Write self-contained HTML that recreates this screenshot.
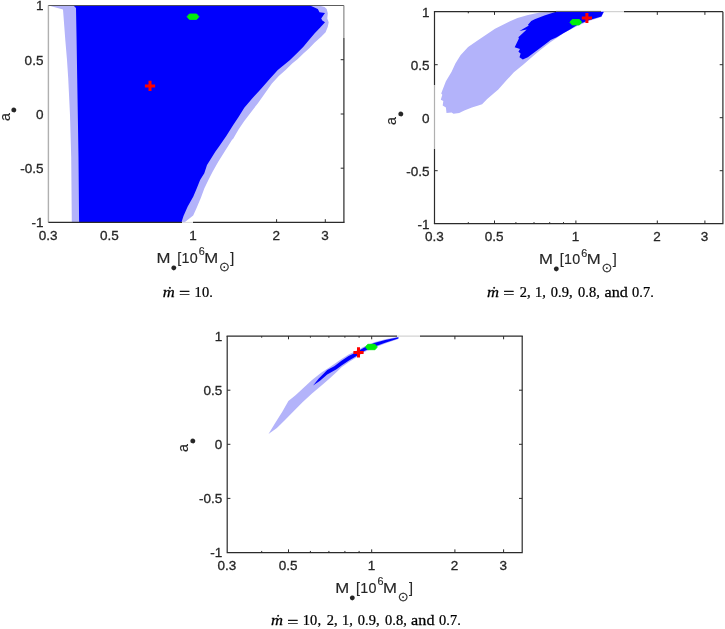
<!DOCTYPE html>
<html><head><meta charset="utf-8"><title>figure</title>
<style>
html,body{margin:0;padding:0;background:#fff}
svg{display:block}
.t{font-family:"Liberation Sans",sans-serif;font-size:13.5px;fill:#262626;stroke:#262626;stroke-width:0.3px}
.l{font-family:"Liberation Sans","DejaVu Sans",sans-serif;font-size:14.3px;fill:#262626;stroke:#262626;stroke-width:0.15px}
.c{font-family:"Liberation Serif",serif;font-size:13.8px;letter-spacing:0.1px;fill:#000;stroke:#000;stroke-width:0.25px}
</style></head><body>
<svg width="725" height="629" viewBox="0 0 725 629">
<rect width="725" height="629" fill="#fff"/>
<polygon points="48.5,5.6 63.0,9.5 65.3,40.0 67.0,60.0 68.2,78.0 70.0,115.0 71.2,157.0 71.8,222.5 184.5,222.5 185.6,221.6 193.2,215.4 196.7,207.8 200.8,198.1 204.3,188.4 208.4,180.1 212.6,171.8 218.1,162.1 225.0,151.0 231.9,140.0 233.2,138.8 238.7,129.2 244.3,120.9 251.2,111.9 258.1,102.9 265.0,93.2 271.9,83.5 278.8,75.9 285.6,70.0 292.2,63.4 297.8,59.0 303.4,53.4 309.0,48.4 314.5,42.8 321.2,36.7 325.6,32.3 327.8,26.7 328.7,22.2 327.3,18.4 327.8,13.3 326.7,8.9 324.5,6.9 319.0,5.6" fill="#b3b3fa"/>
<polygon points="73.5,5.6 76.0,8.0 76.6,40.0 77.2,78.0 78.5,157.0 79.1,222.5 181.4,222.5 183.5,216.1 187.7,206.4 193.2,196.7 196.7,188.4 200.1,180.1 204.3,173.2 207.0,164.9 215.3,151.8 218.7,147.0 226.3,136.0 233.2,125.0 238.7,116.7 244.3,107.7 252.6,98.0 260.9,89.0 269.2,79.4 277.8,70.0 283.3,65.6 290.0,60.0 296.7,53.4 303.4,46.7 309.0,40.0 314.5,33.4 320.0,27.8 325.0,22.2 322.3,20.6 321.2,18.4 325.0,13.1 319.5,12.2 317.8,8.9 314.5,7.6 310.0,5.6" fill="#0000fd"/>
<path d="M48.4 5.5V222.4" stroke="#b0b0b0" stroke-width="1.4" fill="none"/>
<path d="M48.4 5.5H343.9" stroke="#4a4a4a" stroke-width="0.9" fill="none"/>
<path d="M343.9 5.5V38" stroke="#707070" stroke-width="1" fill="none"/>
<path d="M343.9 38V222.4" stroke="#2b2b2b" stroke-width="1.2" fill="none"/>
<path d="M48.4 222.4H182" stroke="#2b2b2b" stroke-width="1.2" fill="none"/>
<path d="M193 222.4H344.5" stroke="#2b2b2b" stroke-width="1.2" fill="none"/>
<path d="M182 222.4H193" stroke="#dcdcdc" stroke-width="1" fill="none"/>
<path d="M276.6 222.4v-3.2" stroke="#2b2b2b" stroke-width="1" fill="none"/>
<path d="M325.3 222.4v-3.2" stroke="#2b2b2b" stroke-width="1" fill="none"/>
<path d="M343.9 59.7h-3.2" stroke="#2b2b2b" stroke-width="1" fill="none"/>
<path d="M343.9 114.0h-3.2" stroke="#2b2b2b" stroke-width="1" fill="none"/>
<path d="M343.9 168.2h-3.2" stroke="#2b2b2b" stroke-width="1" fill="none"/>
<path d="M144.9 85.9H155.1M150.0 80.8V91.0" stroke="#ff0000" stroke-width="3.0" fill="none"/>
<polygon points="187.1,16.7 189.4,14.0 196.6,14.0 198.9,16.7 196.6,19.4 189.4,19.4" fill="#00ee0a" stroke="#00ee0a" stroke-width="0.9" stroke-linejoin="round"/>
<text class="t" transform="translate(43.4,10.3) scale(1.0,1)" text-anchor="end">1</text>
<text class="t" transform="translate(43.4,64.6) scale(1.0,1)" text-anchor="end">0.5</text>
<text class="t" transform="translate(43.4,118.8) scale(1.0,1)" text-anchor="end">0</text>
<text class="t" transform="translate(43.4,173.0) scale(1.0,1)" text-anchor="end">-0.5</text>
<text class="t" transform="translate(43.4,227.2) scale(1.0,1)" text-anchor="end">-1</text>
<text class="t" transform="translate(48.1,239.8) scale(1.0,1)" text-anchor="middle">0.3</text>
<text class="t" transform="translate(109.5,239.8) scale(1.0,1)" text-anchor="middle">0.5</text>
<text class="t" transform="translate(192.9,239.8) scale(1.0,1)" text-anchor="middle">1</text>
<text class="t" transform="translate(276.3,239.8) scale(1.0,1)" text-anchor="middle">2</text>
<text class="t" transform="translate(325.0,239.8) scale(1.0,1)" text-anchor="middle">3</text>
<text class="l" transform="translate(156.5,263.1) scale(1.17,1)">M</text>
<text class="l" style="font-size:10.9px" x="170.4" y="270.9">●</text>
<text class="l" style="letter-spacing:0.35px" x="177.2" y="263.1">[10</text>
<text class="l" style="font-size:10.8px" x="198.8" y="255.3">6</text>
<text class="l" transform="translate(204.2,263.1) scale(1.17,1)">M</text>
<text class="l" style="font-family:'DejaVu Sans',sans-serif;font-size:12.7px" x="219.1" y="270.6">⊙</text>
<text class="l" x="230.2" y="263.1">]</text>
<text class="l" transform="translate(9.5,120.9) scale(1.05,1) rotate(-90)">a</text>
<text class="l" transform="translate(9.5,120.9) rotate(-90)" style="font-size:10.9px" x="7.7" y="7.1">●</text>
<text class="c" transform="translate(162.8,296.5) scale(1.17,1)" style="font-style:italic;font-size:14.2px">ṁ</text>
<text class="c" transform="translate(179.0,297.8) scale(1.43,1.02)">=</text>
<text class="c" transform="translate(194.6,296.5) scale(1.045,1)">10.</text>
<polygon points="556.0,11.8 540.0,12.5 528.0,15.0 517.5,18.0 510.0,21.3 495.0,28.8 478.3,40.0 468.1,47.0 460.5,55.3 455.4,63.5 451.6,71.8 445.9,81.3 442.7,89.6 441.2,93.4 442.3,94.7 440.8,99.7 443.3,101.0 442.7,105.5 445.9,107.4 446.5,113.1 451.6,112.5 453.5,113.7 459.2,113.1 464.3,110.5 471.9,107.4 478.3,105.5 482.1,104.2 487.2,99.1 493.6,93.4 498.3,89.4 506.7,80.1 513.9,72.3 523.4,64.5 532.3,56.7 540.0,50.2 550.0,42.6 556.7,37.9 563.7,33.0 577.2,26.0 588.8,21.0 601.4,17.0 604.2,11.8" fill="#b3b3fa"/>
<polygon points="556.0,11.8 544.4,15.4 534.7,19.3 531.2,21.0 527.8,25.0 528.9,25.6 519.5,31.1 526.7,29.5 518.4,37.2 518.9,38.4 514.7,47.3 520.0,48.9 518.4,51.7 520.6,53.4 519.5,57.3 522.8,59.5 527.8,57.3 534.5,52.3 541.2,47.3 547.8,42.2 550.6,40.0 556.7,37.2 563.4,33.3 570.0,29.5 577.2,25.1 588.8,20.3 601.4,16.4 603.3,12.5 604.2,11.8" fill="#0000fd"/>
<path d="M434.5 11.7V85M434.5 149V223.7" stroke="#2b2b2b" stroke-width="1.2" fill="none"/>
<path d="M434.5 85V149" stroke="#b0b0b0" stroke-width="1.2" fill="none"/>
<path d="M433.9 11.7H556M624 11.7H722.9" stroke="#2b2b2b" stroke-width="1.2" fill="none"/>
<path d="M604 11.7H624" stroke="#c8c8c8" stroke-width="1" fill="none"/>
<path d="M556 11.399999999999999H601" stroke="#4a4a4a" stroke-width="0.9" fill="none"/>
<path d="M722.9 11.7V223.7M433.9 223.7H723.5" stroke="#2b2b2b" stroke-width="1.2" fill="none"/>
<path d="M468.3 223.7v-1.6" stroke="#2b2b2b" stroke-width="1" fill="none"/>
<path d="M494.5 223.7v-3.2" stroke="#2b2b2b" stroke-width="1" fill="none"/>
<path d="M515.9 223.7v-1.6" stroke="#2b2b2b" stroke-width="1" fill="none"/>
<path d="M534.0 223.7v-1.6" stroke="#2b2b2b" stroke-width="1" fill="none"/>
<path d="M549.7 223.7v-1.6" stroke="#2b2b2b" stroke-width="1" fill="none"/>
<path d="M563.5 223.7v-1.6" stroke="#2b2b2b" stroke-width="1" fill="none"/>
<path d="M575.9 223.7v-3.2" stroke="#2b2b2b" stroke-width="1" fill="none"/>
<path d="M657.3 223.7v-3.2" stroke="#2b2b2b" stroke-width="1" fill="none"/>
<path d="M704.9 223.7v-3.2" stroke="#2b2b2b" stroke-width="1" fill="none"/>
<path d="M468.3 11.7v1.6" stroke="#2b2b2b" stroke-width="1" fill="none"/>
<path d="M494.5 11.7v3.2" stroke="#2b2b2b" stroke-width="1" fill="none"/>
<path d="M657.3 11.7v3.2" stroke="#2b2b2b" stroke-width="1" fill="none"/>
<path d="M704.9 11.7v3.2" stroke="#2b2b2b" stroke-width="1" fill="none"/>
<path d="M722.9 64.7h-3.2" stroke="#2b2b2b" stroke-width="1" fill="none"/>
<path d="M434.5 64.7h3.2" stroke="#2b2b2b" stroke-width="1" fill="none"/>
<path d="M722.9 117.7h-3.2" stroke="#2b2b2b" stroke-width="1" fill="none"/>
<path d="M722.9 170.7h-3.2" stroke="#2b2b2b" stroke-width="1" fill="none"/>
<path d="M434.5 170.7h3.2" stroke="#2b2b2b" stroke-width="1" fill="none"/>
<polygon points="569.9,22.2 572.2,19.5 579.4,19.5 581.7,22.2 579.4,24.9 572.2,24.9" fill="#00ee0a" stroke="#00ee0a" stroke-width="0.9" stroke-linejoin="round"/>
<path d="M581.8 18.0H592.0M586.9 12.9V23.1" stroke="#ff0000" stroke-width="3.0" fill="none"/>
<text class="t" transform="translate(429.5,16.5) scale(1.0,1)" text-anchor="end">1</text>
<text class="t" transform="translate(429.5,69.5) scale(1.0,1)" text-anchor="end">0.5</text>
<text class="t" transform="translate(429.5,122.5) scale(1.0,1)" text-anchor="end">0</text>
<text class="t" transform="translate(429.5,175.5) scale(1.0,1)" text-anchor="end">-0.5</text>
<text class="t" transform="translate(429.5,228.5) scale(1.0,1)" text-anchor="end">-1</text>
<text class="t" transform="translate(434.3,241.1) scale(1.0,1)" text-anchor="middle">0.3</text>
<text class="t" transform="translate(494.2,241.1) scale(1.0,1)" text-anchor="middle">0.5</text>
<text class="t" transform="translate(575.6,241.1) scale(1.0,1)" text-anchor="middle">1</text>
<text class="t" transform="translate(657.0,241.1) scale(1.0,1)" text-anchor="middle">2</text>
<text class="t" transform="translate(704.6,241.1) scale(1.0,1)" text-anchor="middle">3</text>
<text class="l" transform="translate(539.0,264.4) scale(1.17,1)">M</text>
<text class="l" style="font-size:10.9px" x="552.9" y="272.2">●</text>
<text class="l" style="letter-spacing:0.35px" x="559.7" y="264.4">[10</text>
<text class="l" style="font-size:10.8px" x="581.3" y="256.6">6</text>
<text class="l" transform="translate(586.7,264.4) scale(1.17,1)">M</text>
<text class="l" style="font-family:'DejaVu Sans',sans-serif;font-size:12.7px" x="601.6" y="271.9">⊙</text>
<text class="l" x="612.7" y="264.4">]</text>
<text class="l" transform="translate(396.4,125.0) scale(1.05,1) rotate(-90)">a</text>
<text class="l" transform="translate(396.4,125.0) rotate(-90)" style="font-size:10.9px" x="7.7" y="7.1">●</text>
<text class="c" transform="translate(487.0,296.5) scale(1.17,1)" style="font-style:italic;font-size:14.2px">ṁ</text>
<text class="c" transform="translate(503.2,297.8) scale(1.43,1.02)">=</text>
<text class="c" transform="translate(519.7,296.5) scale(1.045,1)">2,</text>
<text class="c" transform="translate(535.0,296.5) scale(1.045,1)">1,</text>
<text class="c" transform="translate(550.7,296.5) scale(1.045,1)">0.9,</text>
<text class="c" transform="translate(578.0,296.5) scale(1.045,1)">0.8,</text>
<text class="c" transform="translate(604.4,296.5) scale(1.17,1)">and</text>
<text class="c" transform="translate(631.9,296.5) scale(1.045,1)">0.7.</text>
<polygon points="268.5,434.1 275.5,422.6 282.3,411.8 288.4,400.9 295.8,394.9 303.9,387.4 312.0,380.0 321.5,372.6 329.6,367.2 341.5,358.9 348.6,354.5 354.3,351.8 364.3,346.6 374.2,342.2 385.2,339.3 398.4,336.8 398.4,339.0 385.2,343.5 374.2,347.7 364.3,352.0 355.8,357.8 348.6,362.2 341.5,367.2 337.7,371.0 329.6,378.6 321.5,385.4 312.0,393.5 302.5,402.3 293.1,411.8 285.0,419.9 276.9,428.0" fill="#b3b3fa"/>
<polygon points="313.1,385.4 318.8,378.6 322.8,374.4 327.2,370.0 334.3,366.2 341.5,360.7 348.6,356.1 354.3,353.2 364.3,347.6 374.2,343.0 385.2,339.9 398.4,337.2 398.4,338.6 385.2,342.8 374.2,346.8 364.3,351.0 355.8,356.5 348.6,360.7 341.5,365.4 336.5,369.3 327.2,374.6 320.0,380.8" fill="#0000fd"/>
<path d="M227.2 336.1V552.55M522.2 336.1V552.55M226.6 552.55H522.8000000000001" stroke="#2b2b2b" stroke-width="1.2" fill="none"/>
<path d="M226.6 336.1H397M420 336.1H522.8000000000001" stroke="#2b2b2b" stroke-width="1.2" fill="none"/>
<path d="M397 336.1H420" stroke="#c8c8c8" stroke-width="1" fill="none"/>
<path d="M261.7 552.55v-1.6M261.7 336.1v1.6" stroke="#2b2b2b" stroke-width="1" fill="none"/>
<path d="M288.5 552.55v-3.2M288.5 336.1v3.2" stroke="#2b2b2b" stroke-width="1" fill="none"/>
<path d="M310.4 552.55v-1.6M310.4 336.1v1.6" stroke="#2b2b2b" stroke-width="1" fill="none"/>
<path d="M328.9 552.55v-1.6M328.9 336.1v1.6" stroke="#2b2b2b" stroke-width="1" fill="none"/>
<path d="M344.9 552.55v-1.6M344.9 336.1v1.6" stroke="#2b2b2b" stroke-width="1" fill="none"/>
<path d="M359.1 552.55v-1.6M359.1 336.1v1.6" stroke="#2b2b2b" stroke-width="1" fill="none"/>
<path d="M371.7 552.55v-3.2M371.7 336.1v3.2" stroke="#2b2b2b" stroke-width="1" fill="none"/>
<path d="M454.9 552.55v-3.2M454.9 336.1v3.2" stroke="#2b2b2b" stroke-width="1" fill="none"/>
<path d="M503.6 552.55v-3.2M503.6 336.1v3.2" stroke="#2b2b2b" stroke-width="1" fill="none"/>
<path d="M522.2 390.2h-3.2M227.2 390.2h3.2" stroke="#2b2b2b" stroke-width="1" fill="none"/>
<path d="M522.2 444.3h-3.2M227.2 444.3h3.2" stroke="#2b2b2b" stroke-width="1" fill="none"/>
<path d="M522.2 498.4h-3.2M227.2 498.4h3.2" stroke="#2b2b2b" stroke-width="1" fill="none"/>
<polygon points="365.5,347.0 367.8,344.3 375.0,344.3 377.3,347.0 375.0,349.7 367.8,349.7" fill="#00ee0a" stroke="#00ee0a" stroke-width="0.9" stroke-linejoin="round"/>
<path d="M353.4 352.4H363.6M358.5 347.3V357.5" stroke="#ff0000" stroke-width="3.0" fill="none"/>
<text class="t" transform="translate(222.2,341.0) scale(1.0,1)" text-anchor="end">1</text>
<text class="t" transform="translate(222.2,395.1) scale(1.0,1)" text-anchor="end">0.5</text>
<text class="t" transform="translate(222.2,449.2) scale(1.0,1)" text-anchor="end">0</text>
<text class="t" transform="translate(222.2,503.3) scale(1.0,1)" text-anchor="end">-0.5</text>
<text class="t" transform="translate(222.2,557.4) scale(1.0,1)" text-anchor="end">-1</text>
<text class="t" transform="translate(226.9,569.9) scale(1.0,1)" text-anchor="middle">0.3</text>
<text class="t" transform="translate(288.2,569.9) scale(1.0,1)" text-anchor="middle">0.5</text>
<text class="t" transform="translate(371.4,569.9) scale(1.0,1)" text-anchor="middle">1</text>
<text class="t" transform="translate(454.6,569.9) scale(1.0,1)" text-anchor="middle">2</text>
<text class="t" transform="translate(503.3,569.9) scale(1.0,1)" text-anchor="middle">3</text>
<text class="l" transform="translate(335.2,593.2) scale(1.17,1)">M</text>
<text class="l" style="font-size:10.9px" x="349.1" y="601.0">●</text>
<text class="l" style="letter-spacing:0.35px" x="355.9" y="593.2">[10</text>
<text class="l" style="font-size:10.8px" x="377.5" y="585.4">6</text>
<text class="l" transform="translate(382.9,593.2) scale(1.17,1)">M</text>
<text class="l" style="font-family:'DejaVu Sans',sans-serif;font-size:12.7px" x="397.8" y="600.7">⊙</text>
<text class="l" x="408.9" y="593.2">]</text>
<text class="l" transform="translate(188.4,452.0) scale(1.05,1) rotate(-90)">a</text>
<text class="l" transform="translate(188.4,452.0) rotate(-90)" style="font-size:10.9px" x="7.7" y="7.1">●</text>
<text class="c" transform="translate(271.0,625.3) scale(1.17,1)" style="font-style:italic;font-size:14.2px">ṁ</text>
<text class="c" transform="translate(287.2,626.6) scale(1.43,1.02)">=</text>
<text class="c" transform="translate(302.8,625.3) scale(1.045,1)">10,</text>
<text class="c" transform="translate(326.7,625.3) scale(1.045,1)">2,</text>
<text class="c" transform="translate(342.0,625.3) scale(1.045,1)">1,</text>
<text class="c" transform="translate(357.7,625.3) scale(1.045,1)">0.9,</text>
<text class="c" transform="translate(385.0,625.3) scale(1.045,1)">0.8,</text>
<text class="c" transform="translate(411.0,625.3) scale(1.17,1)">and</text>
<text class="c" transform="translate(438.9,625.3) scale(1.045,1)">0.7.</text>
</svg>
</body></html>
